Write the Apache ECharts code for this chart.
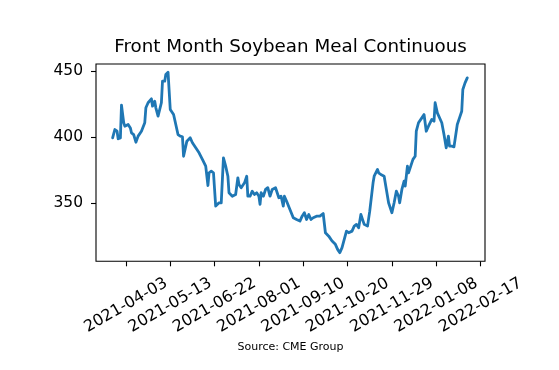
<!DOCTYPE html>
<html>
<head>
<meta charset="utf-8">
<script src="https://cdn.jsdelivr.net/npm/echarts@6/dist/echarts.min.js"></script>
<style>
html,body{margin:0;padding:0;background:#fff;}
#chart{width:559px;height:370px;}
</style>
</head>
<body>
<div id="chart"></div>
<script>
var titleText = "Front Month Soybean Meal Continuous";
var sourceText = "Source: CME Group";

var dates = [
"2021-03-22","2021-03-24","2021-03-26","2021-03-27","2021-03-29","2021-03-30","2021-04-01","2021-04-02",
"2021-04-05","2021-04-07","2021-04-08","2021-04-10","2021-04-12","2021-04-14","2021-04-17","2021-04-20",
"2021-04-21","2021-04-23","2021-04-26","2021-04-27","2021-04-29","2021-04-30","2021-05-02","2021-05-05",
"2021-05-06","2021-05-08","2021-05-09","2021-05-11","2021-05-13","2021-05-16","2021-05-17","2021-05-20",
"2021-05-22","2021-05-24","2021-05-25","2021-05-27","2021-05-28","2021-05-31","2021-06-02","2021-06-05",
"2021-06-08","2021-06-11","2021-06-14","2021-06-16","2021-06-17","2021-06-19","2021-06-21","2021-06-23",
"2021-06-26","2021-06-28","2021-06-30","2021-07-02","2021-07-04","2021-07-05","2021-07-08","2021-07-11",
"2021-07-13","2021-07-14","2021-07-16","2021-07-17","2021-07-19","2021-07-21","2021-07-22","2021-07-24",
"2021-07-26","2021-07-28","2021-07-30","2021-08-01","2021-08-02","2021-08-03","2021-08-05","2021-08-07",
"2021-08-09","2021-08-11","2021-08-13","2021-08-16","2021-08-19","2021-08-21","2021-08-23","2021-08-24",
"2021-08-26","2021-08-29","2021-09-01","2021-09-04","2021-09-07","2021-09-09","2021-09-11","2021-09-13",
"2021-09-15","2021-09-17","2021-09-19","2021-09-22","2021-09-25","2021-09-28","2021-09-30","2021-10-03",
"2021-10-06","2021-10-09","2021-10-11","2021-10-13","2021-10-15","2021-10-16","2021-10-19","2021-10-21",
"2021-10-24","2021-10-26","2021-10-28","2021-10-30","2021-11-01","2021-11-03","2021-11-04","2021-11-07",
"2021-11-09","2021-11-10","2021-11-12","2021-11-13","2021-11-16","2021-11-17","2021-11-19","2021-11-22",
"2021-11-24","2021-11-26","2021-11-29","2021-12-01","2021-12-03","2021-12-05","2021-12-06","2021-12-08",
"2021-12-10","2021-12-11","2021-12-13","2021-12-14","2021-12-16","2021-12-18","2021-12-20","2021-12-21",
"2021-12-23","2021-12-26","2021-12-28","2021-12-30","2022-01-01","2022-01-04","2022-01-06","2022-01-07",
"2022-01-09","2022-01-10","2022-01-13","2022-01-15","2022-01-17","2022-01-19","2022-01-20","2022-01-22",
"2022-01-24","2022-01-27","2022-01-29","2022-01-31","2022-02-01","2022-02-02","2022-02-03","2022-02-05"
];

var prices = [
399.5,405.8,404.5,398.8,399.5,424.2,410.9,408.3,
409.6,407.0,403.3,402.0,396.2,400.8,404.5,410.9,
422.2,426.0,429.0,423.4,427.2,422.2,415.9,426.0,
442.3,442.3,447.4,449.1,421.0,417.1,413.4,402.0,
400.8,400.3,385.6,393.2,397.0,399.5,395.8,392.0,
388.2,383.2,378.1,363.5,373.1,374.3,373.1,347.9,
350.4,350.4,384.4,378.1,370.5,358.0,355.4,356.7,
369.3,364.3,361.8,363.0,365.5,370.5,355.4,355.4,
359.2,356.7,358.0,355.4,349.2,358.0,355.4,360.5,
361.8,355.4,360.5,361.8,354.2,355.4,347.9,355.4,
351.6,345.4,339.1,337.8,336.6,340.3,342.9,337.8,
341.6,337.8,339.1,340.3,340.3,342.3,327.8,325.2,
321.5,319.0,315.2,312.7,316.5,317.7,329.0,327.8,
329.0,332.8,334.1,331.5,341.6,336.6,334.1,332.8,
344.1,345.4,365.5,370.5,375.6,373.1,371.8,370.5,
360.5,350.4,342.9,350.4,359.2,355.4,350.4,360.5,
366.8,363.0,378.1,373.1,378.1,383.2,385.6,404.5,
410.9,414.6,417.1,404.5,408.3,413.4,412.1,426.0,
418.4,419.6,410.9,402.0,392.0,400.8,393.2,393.2,
392.7,409.6,414.6,419.6,436.0,436.0,441.0,444.8
];

var xTickLabels = ["2021-04-03","2021-05-13","2021-06-22","2021-08-01","2021-09-10","2021-10-20","2021-11-29","2022-01-08","2022-02-17"];
var yTickValues = [350, 400, 450];
var xRange = ["2021-03-07", "2022-02-21"];
var yRange = [306.2, 455.3];

function ts(s) {
  var p = s.split("-");
  return Date.UTC(+p[0], +p[1] - 1, +p[2]);
}
function fmt(v) {
  return new Date(v).toISOString().slice(0, 10);
}

var seriesData = dates.map(function (d, i) { return [ts(d), prices[i]]; });
var xTicks = xTickLabels.map(ts);

var chart = echarts.init(document.getElementById('chart'), null, {renderer: 'canvas'});
var font = 'DejaVu Sans';
var gridLeft = 96, gridRight = 74, gridTop = 64, gridBottom = 108.7;
var cx = gridLeft + (559 - gridLeft - gridRight) / 2;

chart.setOption({
  animation: false,
  backgroundColor: '#ffffff',
  grid: {
    left: gridLeft, right: gridRight, top: gridTop, bottom: gridBottom,
    show: true, borderColor: '#000', borderWidth: 1.1, backgroundColor: 'transparent'
  },
  graphic: [
    {
      type: 'text', x: cx, y: 47,
      style: {text: titleText, font: '18.3px "DejaVu Sans"', fill: '#000', align: 'center', verticalAlign: 'middle'}
    },
    {
      type: 'text', x: cx, y: 347,
      style: {text: sourceText, font: '11px "DejaVu Sans"', fill: '#000', align: 'center', verticalAlign: 'middle'}
    }
  ],
  xAxis: {
    type: 'value',
    min: ts(xRange[0]), max: ts(xRange[1]),
    axisLine: {show: false},
    splitLine: {show: false},
    axisTick: {show: true, customValues: xTicks, length: 5, lineStyle: {color: '#000', width: 1.1}},
    axisLabel: {
      customValues: xTicks,
      rotate: 30,
      align: 'center',
      verticalAlign: 'middle',
      margin: 44,
      hideOverlap: false,
      color: '#000',
      fontFamily: font,
      fontSize: 16,
      formatter: function (v) { return fmt(v); }
    }
  },
  yAxis: {
    type: 'value',
    min: yRange[0], max: yRange[1],
    axisLine: {show: false},
    splitLine: {show: false},
    axisTick: {show: true, customValues: yTickValues, length: 5, lineStyle: {color: '#000', width: 1.1}},
    axisLabel: {
      customValues: yTickValues,
      margin: 13,
      color: '#000',
      fontFamily: font,
      fontSize: 15.5
    }
  },
  series: [{
    type: 'line',
    data: seriesData,
    showSymbol: false,
    symbol: 'none',
    lineStyle: {color: '#1f77b4', width: 2.8, join: 'round', cap: 'round'},
    itemStyle: {color: '#1f77b4'}
  }]
});
</script>
</body>
</html>
